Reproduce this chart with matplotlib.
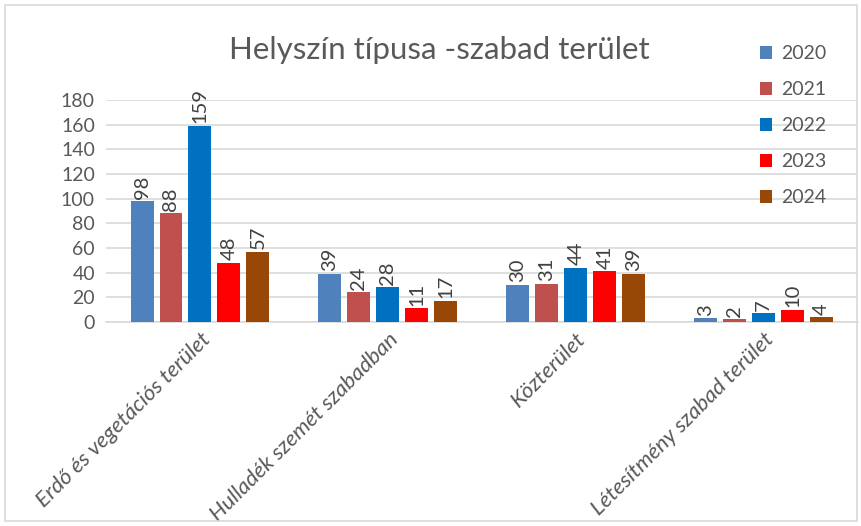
import matplotlib
matplotlib.use("Agg")
import matplotlib.pyplot as plt
import numpy as np
from matplotlib.patches import Rectangle

plt.rcParams['font.family'] = ['Lato', 'DejaVu Sans']

categories = ["Erdő és vegetációs terület", "Hulladék szemét szabadban", "Közterület", "Létesítmény szabad terület"]
years = ["2020", "2021", "2022", "2023", "2024"]
v2020 = [98, 39, 30, 3]
v2021 = [88, 24, 31, 2]
v2022 = [159, 28, 44, 7]
v2023 = [48, 11, 41, 10]
v2024 = [57, 17, 39, 4]
series = [v2020, v2021, v2022, v2023, v2024]
colors = ["#4f81bd", "#c0504d", "#0070c0", "#ff0000", "#974706"]
yticks = [0, 20, 40, 60, 80, 100, 120, 140, 160, 180]

fig = plt.figure(figsize=(8.62, 5.26), dpi=100)
fig.patches.append(Rectangle((0.006, 0.01), 0.988, 0.98, transform=fig.transFigure,
                             fill=False, edgecolor="#d9d9d9", lw=1.2))
ax = fig.add_axes([0.123, 0.388, 0.872, 0.422])

x = np.arange(len(categories))
step = 29 / 188
bw = 23 / 188
for i, (vals, c, yr) in enumerate(zip(series, colors, years)):
    pos = x + (i - 2) * step
    bars = ax.bar(pos, vals, width=bw, color=c, label=yr, zorder=3)
    for b, v in zip(bars, vals):
        ax.text(b.get_x() + b.get_width() / 2, v + 2, str(v), rotation=90,
                ha="center", va="bottom", fontsize=14.5, color="#404040")

ax.set_xlim(-0.5, len(categories) - 0.5)
ax.set_ylim(0, 180)
ax.set_yticks(yticks)
ax.set_yticklabels([str(t) for t in yticks], fontsize=14, color="#595959")
ax.yaxis.grid(True, color="#d9d9d9", lw=1.2, zorder=0)
ax.tick_params(axis="y", length=0, pad=8)
ax.tick_params(axis="x", length=0, pad=5)
for s in ["top", "right", "left"]:
    ax.spines[s].set_visible(False)
ax.spines["bottom"].set_color("#d9d9d9")
ax.spines["bottom"].set_linewidth(1.2)
ax.set_xticks(x)
ax.set_xticklabels(categories, rotation=45, ha="right", rotation_mode="anchor",
                   fontsize=16, color="#595959", style="italic")

fig.text(0.51, 0.905, "Helyszín típusa -szabad terület", ha="center", va="center",
         fontsize=22.5, color="#595959")

leg = fig.legend(loc="upper left", bbox_to_anchor=(0.861, 0.948), frameon=False,
                 fontsize=14, labelspacing=0.98, handlelength=0.65, handleheight=0.65,
                 handletextpad=0.45, labelcolor="#595959")

fig.savefig("out.png", dpi=100)
